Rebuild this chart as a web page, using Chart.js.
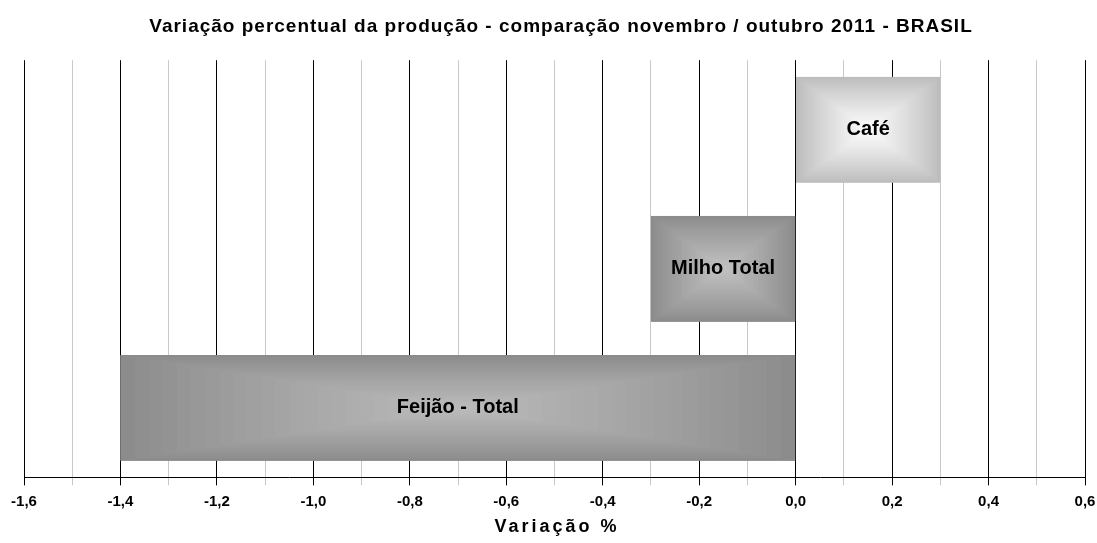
<!DOCTYPE html>
<html lang="pt">
<head>
    <meta charset="UTF-8">
    <title>Variação percentual da produção</title>
    <script src="https://cdn.jsdelivr.net/npm/chart.js"></script>
    <style>
        html, body { margin: 0; padding: 0; background: #fff; overflow: hidden; }
        #wrap { width: 1097px; height: 543px; position: relative; }
    </style>
</head>
<body>
    <div id="wrap"><canvas id="chart"></canvas></div>

    <script>
        // data
        var categories = ['Café', 'Milho Total', 'Feijão - Total'];
        var variacao = [0.3, -0.3, -1.4];
        // edge / centre colours of each bar's rectangular gradient
        var edgeColors = ['#bdbdbd', '#8c8c8c', '#8c8c8c'];
        var centerColors = ['#ffffff', '#c2c2c2', '#bcbcbc'];

        var titleText = 'Variação percentual da produção - comparação novembro / outubro 2011 - BRASIL';
        var axisText = 'Variação %';
        var FONT = '"Liberation Sans", Arial, sans-serif';

        function hexToRgb(h) {
            h = h.replace('#', '');
            return [parseInt(h.substr(0, 2), 16), parseInt(h.substr(2, 2), 16), parseInt(h.substr(4, 2), 16)];
        }

        // fill every bar with concentric rectangles (path-like gradient) and write its label
        var barDecor = {
            id: 'barDecor',
            afterDatasetsDraw: function (chart) {
                var ctx = chart.ctx;
                var meta = chart.getDatasetMeta(0);
                meta.data.forEach(function (bar, i) {
                    var left = Math.min(bar.x, bar.base);
                    var right = Math.max(bar.x, bar.base);
                    var top = bar.y - bar.height / 2;
                    var w = right - left, h = bar.height;
                    var c0 = hexToRgb(edgeColors[i]), c1 = hexToRgb(centerColors[i]);
                    var steps = 24;
                    ctx.save();
                    for (var s = 0; s < steps; s++) {
                        var t = s / steps;
                        var k = Math.pow(t, 0.9);
                        var col = c0.map(function (v, j) { return Math.round(v + (c1[j] - v) * k); });
                        ctx.fillStyle = 'rgb(' + col.join(',') + ')';
                        var ix = t * w / 2, iy = t * h / 2;
                        ctx.fillRect(left + ix, top + iy, w - 2 * ix, h - 2 * iy);
                    }
                    ctx.fillStyle = '#000';
                    ctx.font = 'bold 20px ' + FONT;
                    ctx.textAlign = 'center';
                    ctx.textBaseline = 'middle';
                    ctx.fillText(categories[i], left + w / 2, bar.y);
                    ctx.restore();
                });
            }
        };

        // chart title and axis title drawn with letter spacing; the library titles keep the space
        var spacedTitles = {
            id: 'spacedTitles',
            afterDraw: function (chart) {
                var ctx = chart.ctx;
                ctx.save();
                ctx.fillStyle = '#000';
                ctx.textAlign = 'center';
                ctx.textBaseline = 'middle';
                ctx.font = 'bold 19px ' + FONT;
                if ('letterSpacing' in ctx) ctx.letterSpacing = '1px';
                ctx.fillText(titleText, 561, 27);
                ctx.font = 'bold 18px ' + FONT;
                if ('letterSpacing' in ctx) ctx.letterSpacing = '3px';
                ctx.fillText(axisText, 557, 527);
                ctx.restore();
            }
        };

        function isMajor(v) {
            return Math.round(v * 10) % 2 === 0;
        }

        new Chart(document.getElementById('chart').getContext('2d'), {
            type: 'bar',
            data: {
                labels: categories,
                datasets: [{
                    data: variacao,
                    backgroundColor: edgeColors,
                    borderWidth: 0,
                    categoryPercentage: 1,
                    barPercentage: 0.76
                }]
            },
            options: {
                indexAxis: 'y',
                responsive: true,
                maintainAspectRatio: false,
                animation: false,
                layout: { padding: { left: 24, right: 12, top: 0, bottom: 0 } },
                plugins: {
                    legend: { display: false },
                    tooltip: { enabled: false },
                    title: {
                        display: true,
                        text: titleText,
                        color: 'rgba(0,0,0,0)',
                        font: { family: FONT, size: 16, weight: 'bold' },
                        padding: { top: 19, bottom: 22 }
                    }
                },
                scales: {
                    x: {
                        min: -1.6,
                        max: 0.6,
                        afterFit: function (scale) {
                            // let layout padding alone set the plot edges
                            scale.paddingLeft = 0;
                            scale.paddingRight = 0;
                        },
                        ticks: {
                            stepSize: 0.1,
                            autoSkip: false,
                            maxRotation: 0,
                            color: '#000',
                            padding: 7,
                            font: { family: FONT, size: 15, weight: 'bold' },
                            callback: function (v) {
                                if (!isMajor(v)) return '';
                                return v.toFixed(1).replace('.', ',');
                            }
                        },
                        grid: {
                            drawOnChartArea: true,
                            tickLength: 8,
                            lineWidth: 1,
                            color: function (c) {
                                return (c.tick && isMajor(c.tick.value)) ? '#000' : '#c8c8c8';
                            }
                        },
                        border: { display: true, color: '#000', width: 1 },
                        title: {
                            display: true,
                            text: axisText,
                            color: 'rgba(0,0,0,0)',
                            font: { family: FONT, size: 18, weight: 'bold' },
                            padding: { top: 4, bottom: 0 }
                        }
                    },
                    y: {
                        display: false,
                        grid: { display: false }
                    }
                }
            },
            plugins: [barDecor, spacedTitles]
        });
    </script>
</body>
</html>
